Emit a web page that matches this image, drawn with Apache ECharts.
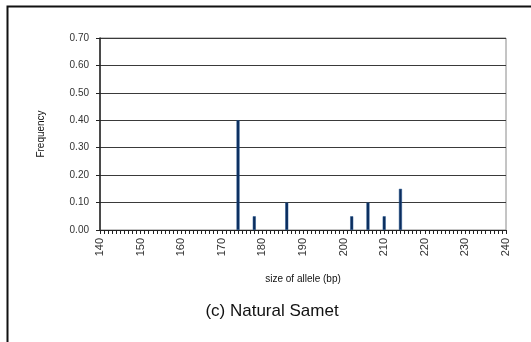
<!DOCTYPE html>
<html>
<head>
<meta charset="utf-8">
<script src="https://cdn.jsdelivr.net/npm/echarts@6/dist/echarts.min.js"></script>
<style>
  html, body { margin: 0; padding: 0; background: #fff; }
  #chart { width: 531px; height: 342px; }
</style>
</head>
<body>
<div id="chart"></div>
<script>
// Allele sizes (bp) and their observed frequencies
const alleleSizes = [174, 178, 186, 202, 206, 210, 214];
const frequencies = [0.40, 0.05, 0.10, 0.05, 0.10, 0.05, 0.15];

const xMin = 140, xMax = 240, xStep = 10;
const yMin = 0, yMax = 0.7, yStep = 0.1;

const chart = echarts.init(document.getElementById('chart'), null, { renderer: 'canvas' });

const font = 'Arial, "Liberation Sans", sans-serif';

chart.setOption({
  animation: false,
  backgroundColor: '#fff',
  grid: { left: 100, top: 38, width: 406, height: 192, containLabel: false,
          show: true, borderColor: '#8a8a8a', borderWidth: 1 },
  title: {
    text: '(c) Natural Samet',
    left: 267, top: 298, textAlign: 'center',
    textStyle: { fontFamily: font, fontSize: 17, fontWeight: 'normal', color: '#111' }
  },
  graphic: [{
    type: 'rect',
    shape: { x: 7.5, y: 6.5, width: 540, height: 350 },
    style: { fill: 'none', stroke: '#111', lineWidth: 2 },
    silent: true
  }],
  xAxis: {
    type: 'value', min: xMin, max: xMax, interval: xStep,
    name: 'size of allele (bp)', nameLocation: 'middle', nameGap: 44,
    nameTextStyle: { fontFamily: font, fontSize: 10, color: '#111' },
    axisLine: { show: true, lineStyle: { color: '#222', width: 1 } },
    axisTick: { show: true, inside: false, length: 4, lineStyle: { color: '#222' } },
    minorTick: { show: true, splitNumber: 10, length: 4, lineStyle: { color: '#222' } },
    axisLabel: { rotate: 90, margin: 8, fontFamily: font, fontSize: 11, color: '#333' },
    splitLine: { show: false }
  },
  yAxis: {
    type: 'value', min: yMin, max: yMax, interval: yStep,
    name: 'Frequency', nameLocation: 'middle', nameGap: 54, nameRotate: 90,
    nameTextStyle: { fontFamily: font, fontSize: 10, color: '#111' },
    axisLine: { show: true, lineStyle: { color: '#222', width: 1.5 } },
    axisTick: { show: true, inside: false, length: 4, lineStyle: { color: '#222' } },
    axisLabel: { margin: 11, fontFamily: font, fontSize: 10, color: '#333',
                 formatter: v => v.toFixed(2) },
    splitLine: { show: true, lineStyle: { color: '#3a3a3a', width: 1 } }
  },
  series: [{
    type: 'bar',
    data: alleleSizes.map((s, i) => [s, frequencies[i]]),
    barWidth: 3,
    itemStyle: { color: '#0c2d5c', borderColor: '#1d4f8a', borderWidth: 0.5 }
  }]
});
</script>
</body>
</html>
